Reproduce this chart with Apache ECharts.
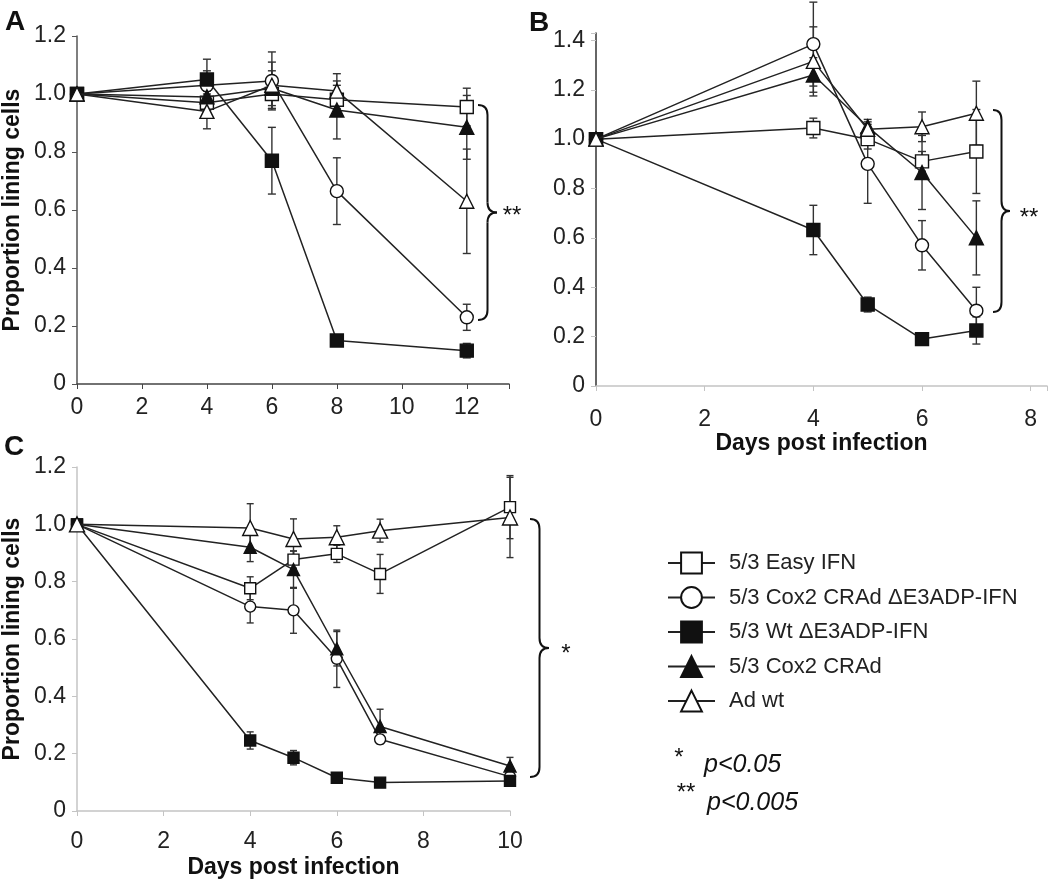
<!DOCTYPE html>
<html>
<head>
<meta charset="utf-8">
<script src="https://cdn.jsdelivr.net/npm/echarts@6/dist/echarts.min.js"></script>
<style>
html,body{margin:0;padding:0;background:#fff;}
#chart{width:1050px;height:883px;}
</style>
</head>
<body>
<div id="chart"></div>
<script>
// ---------- data ----------
const seriesNames = ['5/3 Easy IFN', '5/3 Cox2 CRAd ΔE3ADP-IFN', '5/3 Wt ΔE3ADP-IFN', '5/3 Cox2 CRAd', 'Ad wt'];

// Panel A
const daysA = [0, 4, 6, 8, 12];
const A_easyIFN   = [1.0, 0.97, 1.0, 0.98, 0.955];
const A_cox2IFN   = [1.0, 1.03, 1.045, 0.665, 0.23];
const A_wtIFN     = [1.0, 1.05, 0.77, 0.15, 0.115];
const A_cox2      = [1.0, 0.99, 1.02, 0.945, 0.885];
const A_adwt      = [1.0, 0.94, 1.03, 1.01, 0.63];
const A_easyIFN_err = [0, 0.04, 0.05, 0.05, 0.065];
const A_cox2IFN_err = [0, 0.05, 0.10, 0.115, 0.045];
const A_wtIFN_err   = [0, 0.07, 0.115, 0.015, 0.025];
const A_cox2_err    = [0, 0.06, 0.06, 0.10, 0.11];
const A_adwt_err    = [0, 0.06, 0.08, 0.06, 0.18];

// Panel B
const daysB = [0, 4, 5, 6, 7];
const B_easyIFN   = [1.0, 1.045, 1.0, 0.91, 0.95];
const B_cox2IFN   = [1.0, 1.385, 0.9, 0.57, 0.305];
const B_wtIFN     = [1.0, 0.632, 0.33, 0.19, 0.225];
const B_cox2      = [1.0, 1.26, 1.05, 0.865, 0.6];
const B_adwt      = [1.0, 1.315, 1.04, 1.05, 1.105];
const B_easyIFN_err = [0, 0.04, 0.04, 0.04, 0.17];
const B_cox2IFN_err = [0, 0.17, 0.16, 0.10, 0.095];
const B_wtIFN_err   = [0, 0.10, 0.03, 0.015, 0.055];
const B_cox2_err    = [0, 0.07, 0.03, 0.15, 0.15];
const B_adwt_err    = [0, 0.14, 0.03, 0.06, 0.13];

// Panel C
const daysC = [0, 4, 5, 6, 7, 10];
const C_easyIFN   = [1.0, 0.777, 0.877, 0.897, 0.827, 1.06];
const C_cox2IFN   = [1.0, 0.713, 0.70, 0.531, 0.25, 0.12];
const C_wtIFN     = [1.0, 0.246, 0.186, 0.116, 0.099, 0.105];
const C_cox2      = [1.0, 0.92, 0.842, 0.566, 0.295, 0.157];
const C_adwt      = [1.0, 0.987, 0.949, 0.955, 0.978, 1.024];
const C_easyIFN_err = [0, 0.04, 0.03, 0.03, 0.068, 0.11];
const C_cox2IFN_err = [0, 0.057, 0.08, 0.10, 0.015, 0.015];
const C_wtIFN_err   = [0, 0.03, 0.025, 0.01, 0.008, 0.01];
const C_cox2_err    = [0, 0.05, 0.065, 0.06, 0.06, 0.03];
const C_adwt_err    = [0, 0.085, 0.07, 0.04, 0.04, 0.14];

// ---------- styling ----------
const FONT = "'Liberation Sans', Arial, Helvetica, sans-serif";
const INK = '#222';
const LIGHT = '#c4c4c4';
const markerStyles = [
  {symbol: 'rect', fill: '#fff'},
  {symbol: 'circle', fill: '#fff'},
  {symbol: 'rect', fill: '#111'},
  {symbol: 'triangle', fill: '#111'},
  {symbol: 'triangle', fill: '#fff'}
];

function fmtTick(v) {
  if (Math.abs(v * 5 - Math.round(v * 5)) > 1e-6) return '';
  if (v === 0) return '0';
  return v.toFixed(1);
}
function fmtInt(v) {
  if (Math.abs(v - Math.round(v)) > 1e-6) return '';
  return String(v);
}

function pairs(days, vals) { return days.map((d, i) => [d, vals[i]]); }

const panels = [
  {days: daysA, vals: [A_easyIFN, A_cox2IFN, A_wtIFN, A_cox2, A_adwt],
   errs: [A_easyIFN_err, A_cox2IFN_err, A_wtIFN_err, A_cox2_err, A_adwt_err],
   sizes: [13, 13, 13, 14, 14], cap: 4},
  {days: daysB, vals: [B_easyIFN, B_cox2IFN, B_wtIFN, B_cox2, B_adwt],
   errs: [B_easyIFN_err, B_cox2IFN_err, B_wtIFN_err, B_cox2_err, B_adwt_err],
   sizes: [13, 13, 13, 14, 14], cap: 4},
  {days: daysC, vals: [C_easyIFN, C_cox2IFN, C_wtIFN, C_cox2, C_adwt],
   errs: [C_easyIFN_err, C_cox2IFN_err, C_wtIFN_err, C_cox2_err, C_adwt_err],
   sizes: [11, 11, 11, 12, 15], cap: 3.5}
];

const series = [];
const panelOrder = [2, 0, 1];
panelOrder.forEach(p => {
  const P = panels[p];
  const errData = [];
  P.vals.forEach((vals, s) => {
    P.days.forEach((d, i) => {
      const e = P.errs[s][i];
      if (e > 0) errData.push([d, vals[i], e]);
    });
  });
  const cap = P.cap;
  series.push({
    type: 'custom',
    name: 'err' + p,
    xAxisIndex: p, yAxisIndex: p,
    z: 1,
    silent: true,
    clip: false,
    encode: {x: 0, y: 1},
    data: errData,
    renderItem: function (params, api) {
      const x = api.value(0), y = api.value(1), e = api.value(2);
      const t = api.coord([x, y + e]);
      const b = api.coord([x, y - e]);
      const st = {stroke: '#333', lineWidth: 1.4};
      return {
        type: 'group',
        children: [
          {type: 'line', shape: {x1: t[0], y1: t[1], x2: b[0], y2: b[1]}, style: st},
          {type: 'line', shape: {x1: t[0] - cap, y1: t[1], x2: t[0] + cap, y2: t[1]}, style: st},
          {type: 'line', shape: {x1: b[0] - cap, y1: b[1], x2: b[0] + cap, y2: b[1]}, style: st}
        ]
      };
    }
  });
  P.vals.forEach((vals, s) => {
    const m = markerStyles[s];
    series.push({
      type: 'line',
      name: seriesNames[s],
      xAxisIndex: p, yAxisIndex: p,
      z: 3 + s,
      data: pairs(P.days, vals),
      symbol: m.symbol,
      symbolSize: P.sizes[s],
      showSymbol: true,
      lineStyle: {color: INK, width: 1.5},
      itemStyle: {color: m.fill, borderColor: '#111', borderWidth: 1.4},
      emphasis: {disabled: true}
    });
  });
});

function yAxis(grid, max, lineColor, tickColor, name) {
  return {
    type: 'value', gridIndex: grid, min: 0, max: max, interval: 0.2,
    splitLine: {show: false},
    axisLine: {show: true, lineStyle: {color: lineColor, width: 1.5}},
    axisTick: {show: true, length: 5, lineStyle: {color: tickColor}},
    axisLabel: {formatter: fmtTick, fontSize: 23, color: INK, fontFamily: FONT, margin: 11},
    name: name || '',
    nameLocation: 'middle', nameRotate: 90, nameGap: 53,
    nameTextStyle: {fontSize: 23, fontWeight: 'bold', color: '#111', fontFamily: FONT}
  };
}
function xAxis(grid, max, lineColor, tickColor, margin, name, gap) {
  return {
    type: 'value', gridIndex: grid, min: 0, max: max, interval: 2,
    splitLine: {show: false},
    axisLine: {show: true, onZero: false, lineStyle: {color: lineColor, width: 1.5}},
    axisTick: {show: true, length: 5, lineStyle: {color: tickColor}},
    axisLabel: {formatter: fmtInt, fontSize: 23, color: INK, fontFamily: FONT, margin: margin},
    name: name || '',
    nameLocation: 'middle', nameGap: gap || 40,
    nameTextStyle: {fontSize: 23, fontWeight: 'bold', color: '#111', fontFamily: FONT}
  };
}

function brace(x0, top, bottom, tipX) {
  const mid = (top + bottom) / 2;
  const xm = (x0 + tipX) / 2;
  const r = 10;
  const st = {stroke: '#111', lineWidth: 2, fill: null};
  return {
    type: 'group', z: 10,
    children: [
      {type: 'bezierCurve', shape: {x1: x0, y1: top, cpx1: xm, cpy1: top, x2: xm, y2: top + r}, style: st},
      {type: 'line', shape: {x1: xm, y1: top + r, x2: xm, y2: mid - r}, style: st},
      {type: 'bezierCurve', shape: {x1: xm, y1: mid - r, cpx1: xm, cpy1: mid, x2: tipX, y2: mid}, style: st},
      {type: 'bezierCurve', shape: {x1: tipX, y1: mid, cpx1: xm, cpy1: mid, x2: xm, y2: mid + r}, style: st},
      {type: 'line', shape: {x1: xm, y1: mid + r, x2: xm, y2: bottom - r}, style: st},
      {type: 'bezierCurve', shape: {x1: xm, y1: bottom - r, cpx1: xm, cpy1: bottom, x2: x0, y2: bottom}, style: st}
    ]
  };
}

function txt(x, y, text, size, weight, style, align) {
  return {
    type: 'text', x: x, y: y, z: 10,
    style: {text: text, fontSize: size, fontWeight: weight || 'normal', fontStyle: style || 'normal',
            fontFamily: FONT, fill: '#111', align: align || 'center', verticalAlign: 'middle'}
  };
}

const option = {
  animation: false,
  backgroundColor: '#fff',
  grid: [
    {left: 77, top: 36, width: 432, height: 348},
    {left: 596, top: 33, width: 452, height: 353},
    {left: 77, top: 467, width: 433, height: 344}
  ],
  xAxis: [
    xAxis(0, 13.3, '#444', '#444', 12),
    xAxis(1, 8.3, LIGHT, LIGHT, 22, 'Days post infection', 46),
    xAxis(2, 10, LIGHT, LIGHT, 19, 'Days post infection', 45)
  ],
  yAxis: [
    yAxis(0, 1.2, '#555', '#555', 'Proportion lining cells'),
    yAxis(1, 1.43, '#333', LIGHT),
    yAxis(2, 1.2, LIGHT, LIGHT, 'Proportion lining cells')
  ],
  legend: {
    show: true,
    data: seriesNames,
    orient: 'vertical',
    left: 667, top: 550,
    padding: 0,
    itemWidth: 47, itemHeight: 26, itemGap: 8.5,
    selectedMode: false,
    textStyle: {fontSize: 22, color: INK, fontFamily: FONT, lineHeight: 26, padding: [0, 0, 0, 9]}
  },
  series: series,
  graphic: [
    txt(15, 22, 'A', 28, 'bold'),
    txt(539, 23, 'B', 28, 'bold'),
    txt(14, 447, 'C', 28, 'bold'),
    brace(478, 105, 320, 497),
    brace(993, 110, 312, 1010),
    brace(530, 519, 777, 549),
    txt(512, 216, '**', 24, 'normal'),
    txt(1029, 218, '**', 24, 'normal'),
    txt(566, 654, '*', 24, 'normal'),
    txt(679, 758, '*', 24, 'normal'),
    txt(704, 765, 'p<0.05', 25, 'normal', 'italic', 'left'),
    txt(686, 793, '**', 24, 'normal'),
    txt(707, 803, 'p<0.005', 25, 'normal', 'italic', 'left')
  ]
};

const chart = echarts.init(document.getElementById('chart'), null, {renderer: 'canvas'});
chart.setOption(option);
</script>
</body>
</html>
